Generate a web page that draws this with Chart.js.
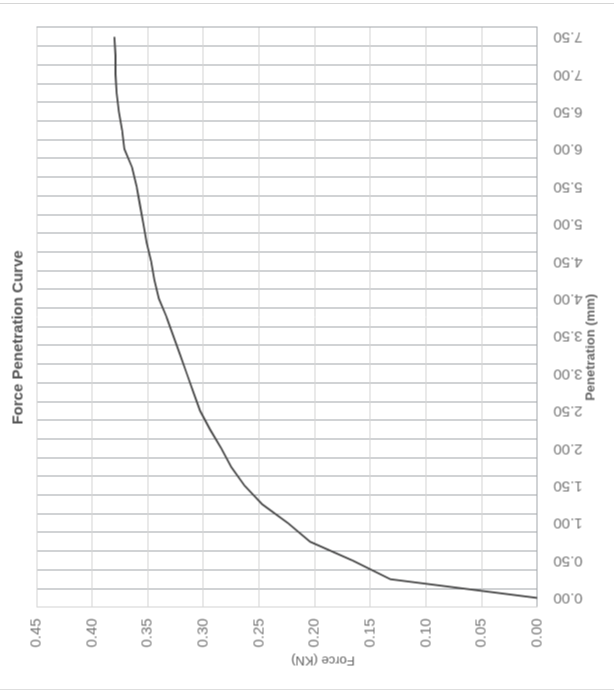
<!DOCTYPE html>
<html>
<head>
<meta charset="utf-8">
<script src="https://cdn.jsdelivr.net/npm/chart.js@4.4.1/dist/chart.umd.min.js"></script>
<style>
  html, body { margin: 0; padding: 0; background: #fff; }
  #page { position: relative; width: 614px; height: 695px; overflow: hidden; background: #fff; }
  /* faint frame of the scanned chart */
  #frame { position: absolute; left: 0; right: 0; top: 3px; bottom: 5px; border-top: 1px solid #d6d6d6; border-bottom: 1px solid #dedede; }
  /* chart is drawn landscape, then turned a quarter turn like the scanned page */
  #wrap { position: absolute; left: -40.5px; top: 40.5px; width: 695px; height: 614px; transform: rotate(-90deg); }
</style>
</head>
<body>
<div id="page">
  <div id="frame"></div>
  <div id="wrap"><canvas id="chartCanvas" width="695" height="614"></canvas></div>
</div>
<script>
// --- data ---
const penetrationMm = ["0.00", "0.25", "0.50", "0.75", "1.00", "1.25", "1.50", "1.75", "2.00", "2.25",
  "2.50", "2.75", "3.00", "3.25", "3.50", "3.75", "4.00", "4.25", "4.50", "4.75",
  "5.00", "5.25", "5.50", "5.75", "6.00", "6.25", "6.50", "6.75", "7.00", "7.25", "7.50"];

const forceKN = [0.000, 0.132, 0.166, 0.204, 0.224, 0.247, 0.263, 0.275, 0.284, 0.294,
  0.303, 0.309, 0.315, 0.321, 0.327, 0.333, 0.340, 0.344, 0.347, 0.351,
  0.354, 0.357, 0.360, 0.364, 0.371, 0.373, 0.376, 0.378, 0.379, 0.379, 0.380];

const chartTitle = "Force Penetration Curve";
const xTitle = "Penetration (mm)";
const yTitle = "Force (KN)";

Chart.defaults.font.family = "Arial, 'Liberation Sans', sans-serif";
Chart.defaults.color = "#666";

// axis titles sit a little off-centre in the original, so draw them here
const axisTitles = {
  id: "axisTitles",
  afterDraw(chart) {
    const { ctx, chartArea: a } = chart;
    ctx.save();
    ctx.fillStyle = "#666";
    ctx.textAlign = "center";
    ctx.textBaseline = "middle";

    ctx.font = "bold 13px Arial, 'Liberation Sans', sans-serif";
    ctx.fillText(xTitle, (a.left + a.right) / 2 - 30, a.bottom + 54);

    ctx.translate(a.left - 53, (a.top + a.bottom) / 2 + 36);
    ctx.rotate(-Math.PI / 2);
    ctx.font = "13px Arial, 'Liberation Sans', sans-serif";
    ctx.fillText(yTitle, 0, 0);
    ctx.restore();
  }
};

const canvas = document.getElementById("chartCanvas");

new Chart(canvas, {
  type: "line",
  data: {
    labels: penetrationMm,
    datasets: [{
      label: yTitle,
      data: forceKN,
      borderColor: "#454545",
      borderWidth: 1.8,
      pointRadius: 0,
      tension: 0,
      fill: false
    }]
  },
  options: {
    responsive: false,
    animation: false,
    devicePixelRatio: 1,
    layout: { padding: { left: 48, right: 27, top: 0, bottom: 32 } },
    plugins: {
      legend: { display: false },
      tooltip: { enabled: false },
      title: {
        display: true,
        text: chartTitle,
        color: "#555",
        font: { size: 15, weight: "bold" },
        padding: { top: 9, bottom: 9 }
      }
    },
    scales: {
      x: {
        type: "category",
        offset: true,
        grid: { offset: true, color: "#a3a7ab", tickLength: 16, tickColor: "rgba(0,0,0,0)" },
        border: { color: "#a3a7ab" },
        ticks: {
          autoSkip: false,
          minRotation: 90,
          maxRotation: 90,
          padding: 0,
          font: { size: 15 },
          color: "#777",
          callback: (v, i) => (i % 2 === 0 ? penetrationMm[i] : "")
        }
      },
      y: {
        min: 0,
        max: 0.45,
        grid: { color: "#d4d4d4", tickLength: 11, tickColor: "rgba(0,0,0,0)" },
        border: { color: "#d4d4d4" },
        ticks: {
          stepSize: 0.05,
          padding: 0,
          font: { size: 15 },
          color: "#777",
          callback: v => Number(v).toFixed(2)
        }
      }
    }
  },
  plugins: [axisTitles]
});
</script>
</body>
</html>
